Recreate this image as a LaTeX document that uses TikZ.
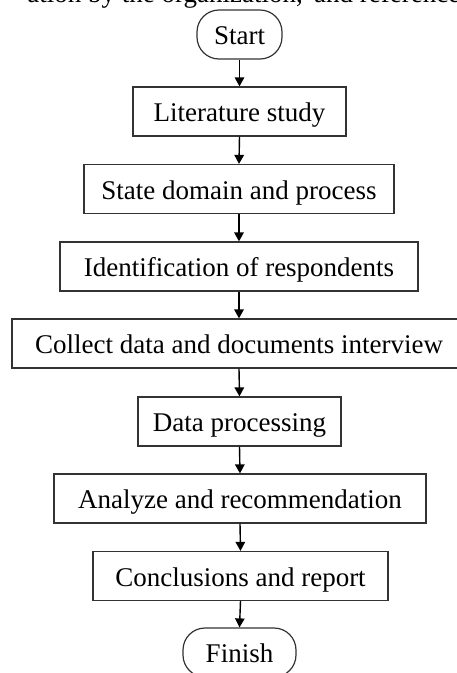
\documentclass[tikz,border=0pt]{standalone}
\usepackage{fontspec}
\setmainfont{Liberation Serif}
\usetikzlibrary{arrows.meta}
\begin{document}
\begin{tikzpicture}[x=1pt,y=-1pt,
  box/.style={draw=black!80, line width=1.2pt, minimum height=49pt, inner sep=0pt,
    text height=22pt, text depth=2pt, font=\fontsize{27}{30}\selectfont},
  term/.style={box, rounded corners=22pt},
  arr/.style={-{Triangle[length=9pt,width=9.5pt]}, line width=1.4pt, black},
  cut/.style={inner sep=0pt, font=\fontsize{27}{30}\selectfont}]
\useasboundingbox (0,0) rectangle (457,673);
\clip (0,0) rectangle (457,673);
\node[cut, anchor=base east] (t1) at (303,2.5) {ation by the organization,};
\node[cut, anchor=base west] (t2) at (314,2.5) {and reference};
\node[term, minimum width=85pt]  (start) at (239.5,34.5) {Start};
\node[box, minimum width=213pt]  (lit)   at (239.5,111.5) {Literature study};
\node[box, minimum width=310pt]  (state) at (239,189) {State domain and process};
\node[box, minimum width=358pt]  (ident) at (239,266.5) {Identification of respondents};
\node[box, minimum width=454pt]  (coll)  at (239,343.5) {Collect data and documents interview};
\node[box, minimum width=203pt]  (data)  at (239.5,421.5) {Data processing};
\node[box, minimum width=372pt]  (anal)  at (240,498.5) {Analyze and recommendation};
\node[box, minimum width=295pt]  (conc)  at (240.5,576) {Conclusions and report};
\node[term, minimum width=113pt] (fin)   at (239.5,652.5) {Finish};
\foreach \a/\b in {start/lit, lit/state, state/ident, ident/coll, coll/data, data/anal, anal/conc, conc/fin}
  \draw[arr] (\a.south) -- (\b.north);
\end{tikzpicture}
\end{document}
